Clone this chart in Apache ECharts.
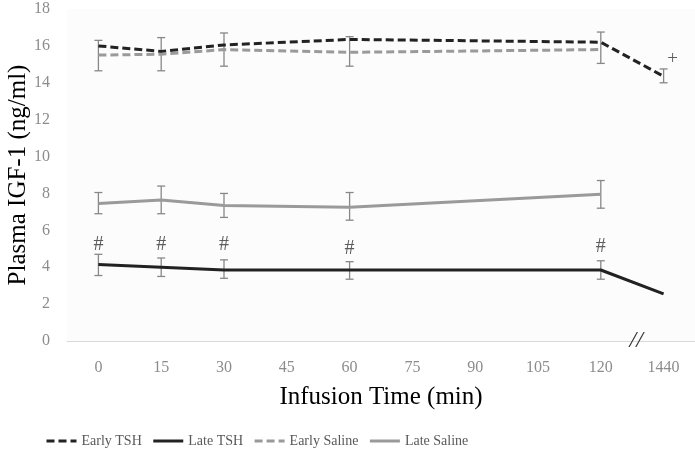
<!DOCTYPE html>
<html><head><meta charset="utf-8">
<script src="https://cdn.jsdelivr.net/npm/echarts@6/dist/echarts.min.js"></script>
<style>html,body{margin:0;padding:0;background:#fff}#c{width:695px;height:452px}</style>
</head><body><div id="c"></div>
<script>
var categories = ['0','15','30','45','60','75','90','105','120','1440'];
var yTicks = [0,2,4,6,8,10,12,14,16,18];
var earlyTSH    = [16.0, 15.7, 16.05, null, 16.35, null, null, null, 16.2, 14.35];
var lateTSH     = [4.15, 4.0, 3.85, null, 3.85, null, null, null, 3.85, 2.55];
var earlySaline = [15.5, 15.55, 15.8, null, 15.65, null, null, null, 15.8, null];
var lateSaline  = [7.45, 7.65, 7.35, null, 7.25, null, null, null, 7.95, null];
// error bars: [categoryIndex, low, high]
var earlyErr = [[0,14.65,16.3],[1,14.65,16.45],[2,14.9,16.7],[4,14.9,16.5],[8,15.05,16.75],[9,14.0,14.75]];
var lateSalineErr = [[0,6.9,8.05],[1,6.9,8.4],[2,6.7,8.0],[4,6.55,8.05],[8,7.2,8.7]];
var lateTSHErr = [[0,3.55,4.7],[1,3.5,4.5],[2,3.4,4.4],[4,3.35,4.3],[8,3.35,4.35]];
var hashMarks = [[0,5.2],[1,5.2],[2,5.2],[4,5.0],[8,5.1]];
var plusMark = [[9,15.3]];

var serif = '"Liberation Serif","DejaVu Serif",serif';
function errSeries(data,color){
  return {type:'custom', data:data, silent:true, z:1,
    renderItem:function(params,api){
      var x=api.value(0), lo=api.coord([x,api.value(1)]), hi=api.coord([x,api.value(2)]);
      var w=4, st={stroke:color,lineWidth:1.3};
      return {type:'group',children:[
        {type:'line',shape:{x1:lo[0],y1:lo[1],x2:hi[0],y2:hi[1]},style:st},
        {type:'line',shape:{x1:lo[0]-w,y1:lo[1],x2:lo[0]+w,y2:lo[1]},style:st},
        {type:'line',shape:{x1:hi[0]-w,y1:hi[1],x2:hi[0]+w,y2:hi[1]},style:st}
      ]};
    }};
}
function lineSeries(name,data,color,type){
  return {name:name,type:'line',data:data,connectNulls:true,symbol:'none',z:3,
    lineStyle:{color:color,width:3,type:type==='dashed'?[8,4]:'solid'},itemStyle:{color:color}};
}
var chart = echarts.init(document.getElementById('c'));
chart.setOption({
  animation:false,
  backgroundColor:'#fff',
  grid:{left:67,right:0,top:9,bottom:111,show:true,borderWidth:0,backgroundColor:'#fcfcfc',
    outerBoundsMode:'none',containLabel:false},
  legend:{bottom:-1,left:40,itemWidth:30,itemHeight:12,itemGap:10,
    itemStyle:{opacity:0},lineStyle:{width:3},
    textStyle:{fontFamily:serif,fontSize:14,color:'#595959'},
    data:['Early TSH','Late TSH','Early Saline','Late Saline']},
  xAxis:{type:'category',data:categories,boundaryGap:true,
    name:'Infusion Time (min)',nameLocation:'middle',nameGap:44,
    nameTextStyle:{fontFamily:serif,fontSize:25,color:'#000'},
    axisLine:{lineStyle:{color:'#d9d9d9',width:1}},axisTick:{show:false},
    axisLabel:{fontFamily:serif,fontSize:16,color:'#8c8c8c',margin:19}},
  yAxis:{type:'value',min:yTicks[0],max:yTicks[yTicks.length-1],interval:2,
    name:'Plasma IGF-1 (ng/ml)',nameLocation:'middle',nameGap:36,nameMoveOverlap:false,
    nameTextStyle:{fontFamily:serif,fontSize:25,color:'#000'},
    axisLine:{show:false},axisTick:{show:false},splitLine:{show:false},
    axisLabel:{fontFamily:serif,fontSize:16,color:'#8c8c8c',margin:17}},
  series:[
    errSeries(earlyErr,'#888'),
    errSeries(lateSalineErr,'#888'),
    errSeries(lateTSHErr,'#888'),
    lineSeries('Early TSH',earlyTSH,'#222','dashed'),
    lineSeries('Late TSH',lateTSH,'#222','solid'),
    lineSeries('Early Saline',earlySaline,'#9a9a9a','dashed'),
    lineSeries('Late Saline',lateSaline,'#9a9a9a','solid'),
    {type:'scatter',data:hashMarks,symbolSize:0,silent:true,
      label:{show:true,formatter:'#',position:'inside',fontFamily:serif,fontSize:20,color:'#333'}},
    {type:'scatter',data:plusMark,symbolSize:0,silent:true,
      label:{show:true,formatter:'+',position:'inside',offset:[9,0],fontFamily:serif,fontSize:19,color:'#333'}}
  ]
});
var p8 = chart.convertToPixel({xAxisIndex:0,yAxisIndex:0},[8,0]);
var p9 = chart.convertToPixel({xAxisIndex:0,yAxisIndex:0},[9,0]);
chart.setOption({graphic:[{type:'text',x:(p8[0]+p9[0])/2+4,y:p8[1],
  style:{text:'//',fontFamily:serif,fontSize:24,fill:'#333',align:'center',verticalAlign:'middle',fontStyle:'italic'},z:10}]});
</script></body></html>
